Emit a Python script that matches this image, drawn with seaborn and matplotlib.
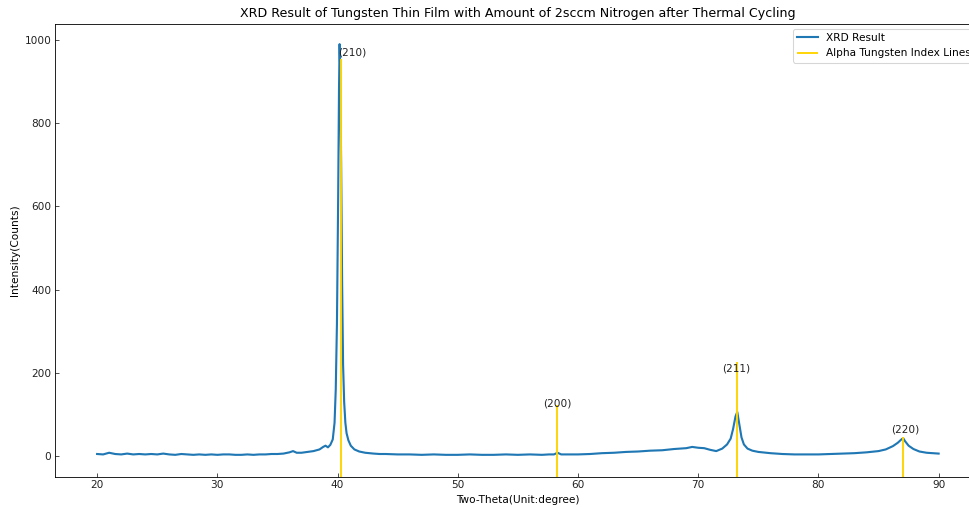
import matplotlib
matplotlib.use("Agg")
import matplotlib.pyplot as plt
import seaborn as sns
import pandas as pd

# ---- data ----
two_theta = [
    20.0, 20.5, 21.0, 21.5, 22.0, 22.5, 23.0, 23.5, 24.0, 24.5, 25.0, 25.5,
    26.0, 26.5, 27.0, 27.5, 28.0, 28.5, 29.0, 29.5, 30.0, 30.5, 31.0, 31.5,
    32.0, 32.5, 33.0, 33.5, 34.0, 34.5, 35.0, 35.5, 36.0, 36.3, 36.6, 37.0,
    37.5, 38.0, 38.5, 38.8, 39.0, 39.2, 39.4, 39.6, 39.75, 39.85, 39.95,
    40.05, 40.12, 40.17, 40.22, 40.3, 40.38, 40.46, 40.55, 40.65, 40.75,
    40.9, 41.1, 41.4, 41.8, 42.3, 43.0, 43.5, 44.0, 45.0, 46.0, 47.0, 48.0,
    49.0, 50.0, 51.0, 52.0, 53.0, 54.0, 55.0, 56.0, 57.0, 57.6, 58.0, 58.3,
    58.6, 59.0, 60.0, 61.0, 62.0, 63.0, 64.0, 65.0, 66.0, 67.0, 68.0, 69.0,
    69.5, 70.0, 70.5, 71.0, 71.5, 72.0, 72.4, 72.7, 72.9, 73.1, 73.25, 73.4,
    73.6, 73.8, 74.1, 74.5, 75.0, 76.0, 77.0, 78.0, 79.0, 80.0, 81.0, 82.0,
    83.0, 84.0, 85.0, 85.6, 86.2, 86.6, 86.9, 87.05, 87.2, 87.5, 87.9, 88.4,
    89.0, 89.5, 90.0,
]
intensity = [
    5, 4, 8, 5, 4, 6, 4, 5, 4, 5, 4, 6,
    4, 3, 5, 4, 3, 4, 3, 4, 3, 4, 4, 3,
    3, 4, 3, 4, 4, 5, 5, 6, 9, 12, 8, 8,
    10, 12, 16, 22, 25, 21, 27, 40, 80, 160, 320,
    620, 880, 990, 930, 700, 420, 220, 130, 80, 55,
    38, 25, 16, 11, 8, 6, 5, 5, 4, 4, 3, 4,
    3, 3, 4, 3, 3, 4, 3, 4, 3, 4, 4, 8,
    4, 4, 4, 5, 7, 8, 10, 11, 13, 14, 17, 19,
    22, 20, 19, 15, 12, 18, 28, 42, 65, 95, 106, 80,
    45, 28, 18, 13, 10, 7, 5, 4, 4, 4, 5, 6,
    7, 9, 12, 16, 24, 32, 40, 43, 36, 25, 17, 11,
    8, 7, 6,
]

index_labels = ["(210)", "(200)", "(211)", "(220)"]
index_positions = [40.26, 58.27, 73.19, 87.02]
index_heights = [955, 122, 227, 45]
label_x = [41.25, 58.27, 73.19, 87.2]
label_y = [970, 127, 211, 65]

df = pd.DataFrame({"Two-Theta": two_theta, "Intensity": intensity})

dpi = 76
fig = plt.figure(figsize=(969 / dpi, 507 / dpi), dpi=dpi)
ax = fig.add_axes([0.0568, 0.0598, 0.9553, 0.8938])

sns.lineplot(data=df, x="Two-Theta", y="Intensity", ax=ax,
             color="#1f77b4", linewidth=2.0, label="XRD Result")

ymin, ymax = -49.5, 1039.5
ax.vlines(index_positions, ymin, index_heights, colors="#FFD400",
          linewidth=1.8, label="Alpha Tungsten Index Lines")
for lx, ly, t in zip(label_x, label_y, index_labels):
    ax.text(lx, ly, t, ha="center", va="center", fontsize=10, color="#222222")

ax.set_xlim(16.5, 93.5)
ax.set_ylim(ymin, ymax)
ax.set_xticks([20, 30, 40, 50, 60, 70, 80, 90])
ax.set_yticks([0, 200, 400, 600, 800, 1000])
ax.spines["right"].set_visible(False)
ax.tick_params(direction="in", labelsize=10, colors="#333333", labelcolor="#222222")
ax.set_xlabel("Two-Theta(Unit:degree)", fontsize=10)
ax.set_ylabel("Intensity(Counts)", fontsize=10)
ax.set_title("XRD Result of Tungsten Thin Film with Amount of 2sccm Nitrogen after Thermal Cycling",
             fontsize=12)
ax.legend(loc="upper right", fontsize=10)

fig.savefig("out.png", dpi=dpi)
